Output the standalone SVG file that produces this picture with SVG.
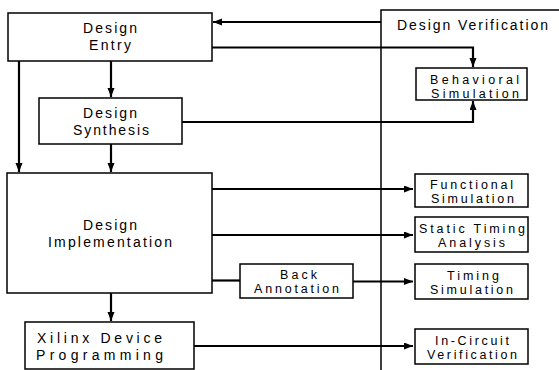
<svg xmlns="http://www.w3.org/2000/svg" width="559" height="370" viewBox="0 0 559 370">
<style>
  .box { fill: #ffffff; stroke: #000000; stroke-width: 1.5; }
  .t { font-family: "Liberation Sans", Arial, Helvetica, sans-serif; font-size: 14px; fill: #000000; }
  .s { font-family: "Liberation Sans", Arial, Helvetica, sans-serif; font-size: 12.5px; fill: #000000; }
  .conn { fill: none; stroke: #000000; stroke-width: 2.2; }
  .div { fill: none; stroke: #000000; stroke-width: 1.5; }
</style>
<defs>
  <marker id="arr" markerUnits="userSpaceOnUse" markerWidth="10" markerHeight="8" refX="9" refY="3.5" orient="auto">
    <path d="M0,0 L9,3.5 L0,7 z" fill="#000000"/>
  </marker>
</defs>
<rect width="559" height="370" fill="#ffffff"/>

<g id="verification-area">
  <path class="div" d="M381,370 L381,10 L559,10"/>
  <text class="t" x="397" y="30" textLength="151" lengthAdjust="spacing">Design Verification</text>
</g>

<g id="connectors">
  <path class="conn" d="M381,22 L213,22" marker-end="url(#arr)"/>
  <path class="conn" d="M212,47.5 L473,47.5 L473,67" marker-end="url(#arr)"/>
  <path class="conn" d="M182,122 L473,122 L473,101" marker-end="url(#arr)"/>
  <path class="conn" d="M19,61 L19,172" marker-end="url(#arr)"/>
  <path class="conn" d="M111,61 L111,97" marker-end="url(#arr)"/>
  <path class="conn" d="M111,144 L111,172" marker-end="url(#arr)"/>
  <path class="conn" d="M212,189 L413,189" marker-end="url(#arr)"/>
  <path class="conn" d="M212,235 L413,235" marker-end="url(#arr)"/>
  <path class="conn" d="M212,280.5 L240,280.5"/>
  <path class="conn" d="M353,281.5 L413,281.5" marker-end="url(#arr)"/>
  <path class="conn" d="M111,293 L111,321" marker-end="url(#arr)"/>
  <path class="conn" d="M194,346 L413,346" marker-end="url(#arr)"/>
</g>

<g id="design-entry">
  <rect class="box" x="8" y="13" width="204" height="48"/>
  <text class="t" x="83" y="33" textLength="54" lengthAdjust="spacing">Design</text>
  <text class="t" x="89" y="49.5" textLength="42" lengthAdjust="spacing">Entry</text>
</g>

<g id="design-synthesis">
  <rect class="box" x="39" y="98" width="143" height="46"/>
  <text class="t" x="83" y="118" textLength="54" lengthAdjust="spacing">Design</text>
  <text class="t" x="73" y="135" textLength="76" lengthAdjust="spacing">Synthesis</text>
</g>

<g id="design-implementation">
  <rect class="box" x="7" y="173" width="205" height="120"/>
  <text class="t" x="83" y="230" textLength="54" lengthAdjust="spacing">Design</text>
  <text class="t" x="48" y="246.5" textLength="124" lengthAdjust="spacing">Implementation</text>
</g>

<g id="xilinx-device-programming">
  <rect class="box" x="25" y="322" width="169" height="47"/>
  <text class="t" x="37" y="343" textLength="125" lengthAdjust="spacing">Xilinx Device</text>
  <text class="t" x="36" y="360" textLength="127" lengthAdjust="spacing">Programming</text>
</g>

<g id="back-annotation">
  <rect class="box" x="240" y="264" width="113" height="34"/>
  <text class="s" x="280" y="279" textLength="37" lengthAdjust="spacing">Back</text>
  <text class="s" x="254" y="293" textLength="85" lengthAdjust="spacing">Annotation</text>
</g>

<g id="behavioral-simulation">
  <rect class="box" x="416" y="68" width="111" height="32"/>
  <text class="s" x="430" y="83.5" textLength="89" lengthAdjust="spacing">Behavioral</text>
  <text class="s" x="431" y="97.5" textLength="88" lengthAdjust="spacing">Simulation</text>
</g>

<g id="functional-simulation">
  <rect class="box" x="415" y="174" width="113" height="33"/>
  <text class="s" x="430" y="188.5" textLength="83" lengthAdjust="spacing">Functional</text>
  <text class="s" x="431" y="202.5" textLength="83" lengthAdjust="spacing">Simulation</text>
</g>

<g id="static-timing-analysis">
  <rect class="box" x="415" y="217" width="113" height="35"/>
  <text class="s" x="419" y="232.5" textLength="106" lengthAdjust="spacing">Static Timing</text>
  <text class="s" x="438" y="246.5" textLength="67" lengthAdjust="spacing">Analysis</text>
</g>

<g id="timing-simulation">
  <rect class="box" x="415" y="264" width="113" height="35"/>
  <text class="s" x="447" y="279.5" textLength="52" lengthAdjust="spacing">Timing</text>
  <text class="s" x="430" y="293.5" textLength="83" lengthAdjust="spacing">Simulation</text>
</g>

<g id="in-circuit-verification">
  <rect class="box" x="415" y="329" width="113" height="35"/>
  <text class="s" x="435" y="344.5" textLength="74" lengthAdjust="spacing">In-Circuit</text>
  <text class="s" x="427" y="358.5" textLength="90" lengthAdjust="spacing">Verification</text>
</g>
</svg>
